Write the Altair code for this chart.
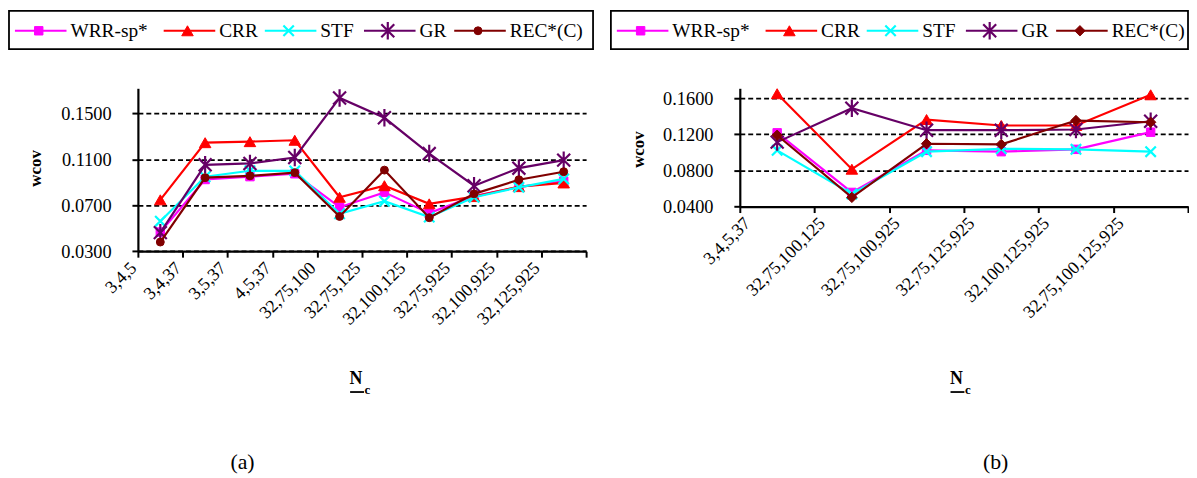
import altair as alt
import pandas as pd

FONT = "'Liberation Serif', 'Times New Roman', Times, serif"

SERIES = ["WRR-sp*", "CRR", "STF", "GR", "REC*(C)"]
COLORS = ["#FF00FF", "#FF0000", "#00FFFF", "#660066", "#800000"]

CATS_A = ["3,4,5", "3,4,37", "3,5,37", "4,5,37", "32,75,100", "32,75,125",
          "32,100,125", "32,75,925", "32,100,925", "32,125,925"]
WRR_A = [0.0467, 0.0925, 0.0950, 0.0975, 0.0684, 0.0813, 0.0632, 0.0780, 0.0860, 0.0910]
CRR_A = [0.0748, 0.1246, 0.1255, 0.1267, 0.0770, 0.0871, 0.0713, 0.0776, 0.0863, 0.0895]
STF_A = [0.0562, 0.0949, 0.1001, 0.1000, 0.0627, 0.0736, 0.0597, 0.0770, 0.0857, 0.0930]
GR_A = [0.0462, 0.1053, 0.1065, 0.1117, 0.1636, 0.1463, 0.1151, 0.0871, 0.1024, 0.1094]
REC_A = [0.0380, 0.0941, 0.0957, 0.0985, 0.0603, 0.1007, 0.0592, 0.0800, 0.0923, 0.0993]

CATS_B = ["3,4,5,37", "32,75,100,125", "32,75,100,925", "32,75,125,925",
          "32,100,125,925", "32,75,100,125,925"]
WRR_B = [0.1217, 0.0557, 0.1023, 0.1008, 0.1034, 0.1224]
CRR_B = [0.1650, 0.0814, 0.1364, 0.1298, 0.1298, 0.1638]
STF_B = [0.1023, 0.0540, 0.1008, 0.1040, 0.1034, 0.1008]
GR_B = [0.1114, 0.1490, 0.1246, 0.1246, 0.1254, 0.1345]
REC_B = [0.1190, 0.0502, 0.1096, 0.1089, 0.1353, 0.1334]

YTICKS_A = [0.03, 0.07, 0.11, 0.15]
YDOM_A = [0.03, 0.172]
YTICKS_B = [0.04, 0.08, 0.12, 0.16]
YDOM_B = [0.04, 0.171]

# marker styles
X_PATH = "M-1,-1L1,1M-1,1L1,-1"
STAR_PATH = "M-1,-1L1,1M-1,1L1,-1M0,-1.35L0,1.35"
SHAPES_A = ["square", "triangle-up", X_PATH, STAR_PATH, "circle"]
SHAPES_B = ["square", "triangle-up", X_PATH, STAR_PATH, "diamond"]
SIZES_A = [72, 135, 110, 170, 64]
SIZES_B = [72, 135, 110, 170, 110]
SOLID = {"square", "triangle-up", "circle", "diamond"}

# legend layout (pixels, relative to plot area)
LEG_X = [-124, 26, 128, 228, 319]
LEG_Y = -58
W = 452


def data_layer(cats, values, shapes, sizes, ydom, yticks, label_offset):
    xenc = alt.X(
        "cat:N", sort=cats, bandPosition=0.5,
        scale=alt.Scale(type="band", domain=cats, paddingInner=0, paddingOuter=0),
        axis=alt.Axis(title=None, tickBand="extent", labelAngle=-45, labelAlign="right",
                      labelBaseline="middle", labelOffset=label_offset, labelPadding=8,
                      tickSize=6, tickWidth=2, tickColor="black", domainWidth=2.2,
                      domainColor="black", grid=False,
                      labelOverlap=False, labelBound=False, labelFontSize=18,
                      labelFont=FONT, labelColor="black"),
    )
    yenc = alt.Y(
        "v:Q",
        scale=alt.Scale(domain=ydom, nice=False, zero=False),
        axis=alt.Axis(title=None, values=yticks, format=".4f", tickSize=6, tickWidth=2,
                      tickColor="black", domainWidth=2.2, domainColor="black",
                      labelPadding=21, grid=True, gridDash=[5, 3],
                      gridColor="black", gridWidth=1.8, labelOverlap=False,
                      labelFontSize=18.5, labelFont=FONT, labelColor="black"),
    )
    layers = []
    for name, color, shape, size, vals in zip(SERIES, COLORS, shapes, sizes, values):
        df = pd.DataFrame({"cat": cats, "v": vals, "series": name})
        base = alt.Chart(df)
        layers.append(base.mark_line(color=color, strokeWidth=2.2).encode(x=xenc, y=yenc))
        layers.append(
            base.mark_point(shape=shape, size=size, filled=True, fill=color, stroke=color,
                            strokeWidth=1 if shape in SOLID else 2.2, opacity=1)
            .encode(x=xenc, y=yenc)
        )
    return alt.layer(*layers)


def legend_layer(shapes, sizes):
    lx = alt.X("idx:Q", scale=alt.Scale(domain=list(range(len(SERIES))), range=LEG_X,
                                        nice=False, zero=False), axis=None)
    layers = []
    for i, (name, color, shape, size) in enumerate(zip(SERIES, COLORS, shapes, sizes)):
        base = alt.Chart(pd.DataFrame({"idx": [i], "name": [name]}))
        layers.append(base.mark_rule(color=color, strokeWidth=2.2, x2Offset=52)
                      .encode(x=lx, x2=alt.X2("idx:Q"), y=alt.value(LEG_Y)))
        layers.append(base.mark_point(shape=shape, size=size, filled=True, fill=color,
                                      stroke=color, strokeWidth=1 if shape in SOLID else 2.2,
                                      opacity=1, xOffset=24)
                      .encode(x=lx, y=alt.value(LEG_Y)))
        layers.append(base.mark_text(align="left", baseline="middle", xOffset=56,
                                     fontSize=19.5, font=FONT, color="black")
                      .encode(x=lx, y=alt.value(LEG_Y), text="name:N"))
    return alt.layer(*layers)


def annotations(ytitle_x, ytitle_y, n_x, sub_label, sub_x, box_right):
    one = pd.DataFrame({"a": [0]})
    box = alt.Chart(one).mark_rect(fill="white", stroke="black", strokeWidth=1.8).encode(
        x=alt.value(-130), x2=alt.value(box_right),
        y=alt.value(-78), y2=alt.value(-39.5))
    ytitle = alt.Chart(one).mark_text(text="wcov", angle=270, fontSize=17, fontWeight="bold",
                                      font=FONT, color="black", align="center",
                                      baseline="middle").encode(
        x=alt.value(ytitle_x), y=alt.value(ytitle_y))
    n_text = alt.Chart(one).mark_text(text="N", fontSize=18, fontWeight="bold", font=FONT,
                                      color="black", align="center",
                                      baseline="alphabetic").encode(
        x=alt.value(n_x), y=alt.value(298.3))
    n_line = alt.Chart(one).mark_rule(color="black", strokeWidth=1.8).encode(
        x=alt.value(n_x - 6), x2=alt.value(n_x + 8), y=alt.value(306.3))
    c_text = alt.Chart(one).mark_text(text="c", fontSize=13, fontWeight="bold", font=FONT,
                                      color="black", align="left",
                                      baseline="alphabetic").encode(
        x=alt.value(n_x + 8.5), y=alt.value(308.3))
    sub = alt.Chart(one).mark_text(text=sub_label, fontSize=22, font=FONT, color="black",
                                   align="center", baseline="alphabetic").encode(
        x=alt.value(sub_x), y=alt.value(384))
    return box, ytitle, n_text, n_line, c_text, sub


box_a, yt_a, n_a, nl_a, c_a, sub_a = annotations(-102.5, 80.8, 220, "(a)", 105.5, W + 7)
left = alt.layer(
    box_a,
    data_layer(CATS_A, [WRR_A, CRR_A, STF_A, GR_A, REC_A], SHAPES_A, SIZES_A,
               YDOM_A, YTICKS_A, -27),
    legend_layer(SHAPES_A, SIZES_A),
    yt_a, n_a, nl_a, c_a, sub_a,
).resolve_scale(x="independent").properties(width=W, height=164.3)

box_b, yt_b, n_b, nl_b, c_b, sub_b = annotations(-101.5, 61.8, 218.5, "(b)", 258, W)
right = alt.layer(
    box_b,
    data_layer(CATS_B, [WRR_B, CRR_B, STF_B, GR_B, REC_B], SHAPES_B, SIZES_B,
               YDOM_B, YTICKS_B, -30),
    legend_layer(SHAPES_B, SIZES_B),
    yt_b, n_b, nl_b, c_b, sub_b,
).resolve_scale(x="independent").properties(width=W, height=119.3)

chart = (
    alt.hconcat(left, right, spacing=16)
    .properties(padding=0)
    .configure(font=FONT)
    .configure_axis(labelFont=FONT)
    .configure_view(stroke=None)
)

chart.save("out.html", embed_options={"renderer": "svg", "actions": False})
